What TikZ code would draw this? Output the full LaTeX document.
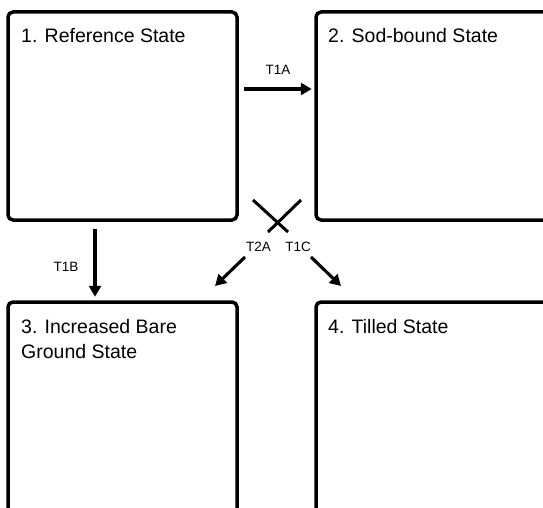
\documentclass[tikz,border=0pt]{standalone}
\usepackage{fontspec}
\setmainfont{Liberation Sans}
\usetikzlibrary{arrows.meta}

\tikzset{
  statebox/.style={draw=black, line width=3.5pt, rounded corners=5pt, rectangle,
                   inner sep=0pt, fill=white},
  statetext/.style={anchor=base west, inner sep=0pt, font=\fontsize{19.5}{25}\selectfont,
                    align=left},
  translabel/.style={anchor=base, inner sep=0pt, font=\fontsize{13.5}{16}\selectfont},
  transarrow/.style={line width=3.1pt, -{Triangle[length=11pt,width=12pt]}},
  crossline/.style={line width=3pt}
}

\begin{document}
\begin{tikzpicture}[x=1pt,y=1pt]
  \useasboundingbox (0,0) rectangle (543,-508);

  % state boxes (some run past the page edge)
  \node[statebox, minimum width=229pt, minimum height=208pt] (b1) at (122.5,-116) {};
  \node[statebox, minimum width=240pt, minimum height=208pt] (b2) at (436,-116) {};
  \node[statebox, minimum width=229pt, minimum height=220pt] (b3) at (122.5,-412) {};
  \node[statebox, minimum width=240pt, minimum height=220pt] (b4) at (436,-412) {};

  % state titles (base anchor of a two-line node sits on its last line)
  \node[statetext] (s1) at (21,-43) {1. Reference State};
  \node[statetext] (s2) at (328,-43) {2. Sod-bound State};
  \node[statetext] (s3) at (21,-358) {3. Increased Bare\\Ground State};
  \node[statetext] (s4) at (328,-333) {4. Tilled State};

  % transitions
  \draw[transarrow, shorten <=5.5pt, shorten >=2.5pt]
    (b1.east |- 0,-89) -- (b2.west |- 0,-89);
  \node[translabel] (t1a) at (278,-75) {T1A};

  \draw[transarrow, shorten <=7.5pt, shorten >=3.5pt]
    (b1.south -| 95,0) -- (b3.north -| 95,0);
  \node[translabel] (t1b) at (66,-271) {T1B};

  % crossing mark between the boxes
  \coordinate (xa1) at (253,-200);
  \coordinate (xa2) at (288,-232);
  \coordinate (xb1) at (301,-200);
  \coordinate (xb2) at (268,-232);
  \draw[crossline] (xa1) -- (xa2);
  \draw[crossline] (xb1) -- (xb2);

  \node[translabel] (t2a) at (258.5,-251) {T2A};
  \node[translabel] (t1c) at (298,-251) {T1C};

  \coordinate (t2as) at (245,-257);
  \coordinate (t2ae) at (215,-286);
  \coordinate (t1cs) at (311,-257);
  \coordinate (t1ce) at (341,-286);
  \draw[transarrow] (t2as) -- (t2ae);
  \draw[transarrow] (t1cs) -- (t1ce);
\end{tikzpicture}
\end{document}
